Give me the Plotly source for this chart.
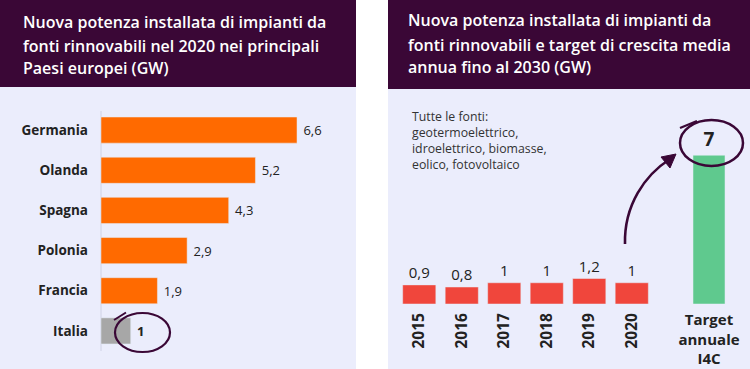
import plotly.graph_objects as go

# ---- data ----
countries = ["Germania", "Olanda", "Spagna", "Polonia", "Francia", "Italia"]
country_values = [6.6, 5.2, 4.3, 2.9, 1.9, 1.0]
years = ["2015", "2016", "2017", "2018", "2019", "2020"]
year_values = [0.9, 0.8, 1.0, 1.0, 1.2, 1.0]
target_label = ["Target<br>annuale<br>I4C"]
target_value = [7.0]

title_left = ["Nuova potenza installata di impianti da",
              "fonti rinnovabili nel 2020 nei principali",
              "Paesi europei (GW)"]
title_right = ["Nuova potenza installata di impianti da",
               "fonti rinnovabili e target di crescita media",
               "annua fino al 2030 (GW)"]
note = "Tutte le fonti:<br>geotermoelettrico,<br>idroelettrico, biomasse,<br>eolico, fotovoltaico"

W, H = 750, 369
PURPLE = "#3a0736"
LAV = "#ebedfc"
FONT = "Open Sans"
TXT = "#222222"


def fx(px):
    return px / W


def fy(py):
    return 1 - py / H


def fmt(v):
    s = f"{v:.1f}".replace(".", ",")
    return s[:-2] if s.endswith(",0") else s


fig = go.Figure()

# left chart
fig.add_trace(go.Bar(
    y=countries, x=country_values, orientation="h",
    marker=dict(color=["#ff6a00"] * 5 + ["#a7a7a7"]),
    width=0.65,
    text=["\u00a0" + (fmt(v) if c != "Italia" else "<b>" + fmt(v) + "</b>")
          for c, v in zip(countries, country_values)],
    textposition="outside", cliponaxis=False,
    textfont=dict(size=13, color=TXT, family=FONT),
    xaxis="x", yaxis="y", hoverinfo="skip",
))

# right chart: years
fig.add_trace(go.Bar(
    x=years, y=year_values,
    marker=dict(color="#f0463c"), width=0.78,
    text=[fmt(v) for v in year_values], textposition="outside", cliponaxis=False,
    textfont=dict(size=15, color=TXT, family=FONT),
    xaxis="x2", yaxis="y2", hoverinfo="skip",
))

# right chart: target
fig.add_trace(go.Bar(
    x=target_label, y=target_value,
    marker=dict(color="#5fc98e"), width=0.78,
    text=["<b>" + fmt(v) + "</b>" for v in target_value], textposition="outside", cliponaxis=False,
    textfont=dict(size=19, color=TXT, family=FONT),
    xaxis="x3", yaxis="y3", hoverinfo="skip",
))

# panel backgrounds
shapes = [
    dict(type="rect", xref="paper", yref="paper", x0=fx(0), x1=fx(356), y0=fy(87), y1=fy(0),
         fillcolor=PURPLE, line=dict(width=0), layer="below"),
    dict(type="rect", xref="paper", yref="paper", x0=fx(0), x1=fx(356), y0=fy(369), y1=fy(87),
         fillcolor=LAV, line=dict(width=0), layer="below"),
    dict(type="rect", xref="paper", yref="paper", x0=fx(388), x1=fx(750), y0=fy(89), y1=fy(0),
         fillcolor=PURPLE, line=dict(width=0), layer="below"),
    dict(type="rect", xref="paper", yref="paper", x0=fx(388), x1=fx(750), y0=fy(369), y1=fy(89),
         fillcolor=LAV, line=dict(width=0), layer="below"),
    # left axis line
    dict(type="line", xref="paper", yref="paper", x0=fx(101), x1=fx(101), y0=fy(351), y1=fy(111),
         line=dict(color="#cfd2e6", width=1), layer="below"),
    # ellipse around Italia
    dict(type="circle", xref="paper", yref="paper", x0=fx(115), x1=fx(170), y0=fy(352), y1=fy(313),
         line=dict(color=PURPLE, width=2.2)),
    dict(type="path", xref="paper", yref="paper",
         path=f"M {fx(114)},{fy(320)} L {fx(126)},{fy(312.5)}",
         line=dict(color=PURPLE, width=2)),
    # ellipse around target
    dict(type="circle", xref="paper", yref="paper", x0=fx(680), x1=fx(743), y0=fy(166), y1=fy(120),
         line=dict(color=PURPLE, width=2.5)),
    dict(type="path", xref="paper", yref="paper",
         path=f"M {fx(680)},{fy(128)} L {fx(697)},{fy(121)}",
         line=dict(color=PURPLE, width=2.2)),
    # curved arrow
    dict(type="path", xref="paper", yref="paper",
         path=f"M {fx(625)},{fy(244)} C {fx(624)},{fy(205)} {fx(645)},{fy(175)} {fx(670)},{fy(159)}",
         line=dict(color=PURPLE, width=2.6)),
    dict(type="path", xref="paper", yref="paper",
         path=f"M {fx(676)},{fy(154)} L {fx(661)},{fy(157)} L {fx(670)},{fy(168)} Z",
         fillcolor=PURPLE, line=dict(color=PURPLE, width=1)),
]

annotations = []
for line, yc in zip(title_left, [22, 46, 68]):
    annotations.append(dict(text=line, xref="paper", yref="paper", x=fx(21), y=fy(yc),
                            xanchor="left", yanchor="middle", showarrow=False,
                            font=dict(family=FONT, size=16, color="white", weight=600)))
for line, yc in zip(title_right, [20, 45, 67]):
    annotations.append(dict(text=line, xref="paper", yref="paper", x=fx(406), y=fy(yc),
                            xanchor="left", yanchor="middle", showarrow=False,
                            font=dict(family=FONT, size=16, color="white", weight=600)))
annotations.append(dict(text=note, xref="paper", yref="paper", x=fx(410), y=fy(106), xanchor="left",
                        yanchor="top", align="left", showarrow=False,
                        font=dict(family=FONT, size=12.3, color="#333333")))

fig.update_layout(
    width=W, height=H,
    margin=dict(l=0, r=0, t=0, b=0, pad=0, autoexpand=False),
    paper_bgcolor="white", plot_bgcolor="rgba(0,0,0,0)",
    showlegend=False,
    shapes=shapes, annotations=annotations,
    font=dict(family=FONT, color=TXT),
    xaxis=dict(domain=[fx(101), fx(101 + 7.5 * 29.7)], range=[0, 7.5], visible=False, fixedrange=True,
               automargin=False),
    yaxis=dict(domain=[fy(351), fy(110)], autorange="reversed", showgrid=False, zeroline=False,
               showline=False, ticks="", ticklabelstandoff=12, automargin=False,
               tickfont=dict(size=13.5, color=TXT, family=FONT, weight=700), anchor="x"),
    xaxis2=dict(domain=[fx(398), fx(653)], range=[-0.5, 5.5], showgrid=False, zeroline=False,
                showline=False, ticks="", tickangle=-90, ticklabelstandoff=5, automargin=False,
                tickfont=dict(size=15.5, color=TXT, family=FONT, weight=700), anchor="y2"),
    yaxis2=dict(domain=[fy(304), fy(134)], range=[0, 8], visible=False, anchor="x2", automargin=False),
    xaxis3=dict(domain=[fx(688.5), fx(729.5)], range=[-0.5, 0.5], showgrid=False, zeroline=False,
                showline=False, ticks="", ticklabelstandoff=5, automargin=False,
                tickfont=dict(size=15, color=TXT, family=FONT, weight=700), anchor="y3"),
    yaxis3=dict(domain=[fy(304), fy(134)], range=[0, 8], visible=False, anchor="x3", automargin=False),
)

fig.write_html("out.html", config={"displayModeBar": False},
               post_script="document.body.style.margin='0px';document.body.style.overflow='hidden';")
